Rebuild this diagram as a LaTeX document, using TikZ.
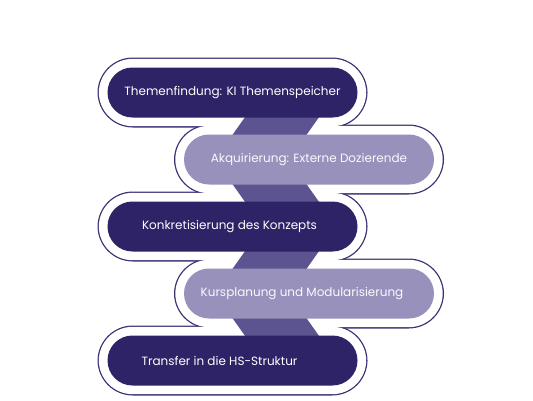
\documentclass[tikz,border=0pt]{standalone}
\usepackage{fontspec}
\setmainfont{Poppins}
\usetikzlibrary{backgrounds}
\definecolor{stepdark}{HTML}{2D2366}
\definecolor{steplight}{HTML}{9791BC}
\definecolor{ribbonpurple}{HTML}{5C5491}
\definecolor{ringpurple}{HTML}{3B3275}
\tikzset{%
    every node/.style={%
        font=\fontsize{12}{14}\selectfont,%
        text=white%
    },%
    pill/.style={%
        rounded corners=25pt,%
        minimum width=250pt,%
        minimum height=50pt,%
        inner sep=0pt%
    },%
    pilldark/.style={pill, fill=stepdark},%
    pilllight/.style={pill, fill=steplight, text=white!95!steplight},%
    ringline/.style={%
        draw=ringpurple,%
        line width=2.6pt,%
        rounded corners=34pt%
    },%
    ringfill/.style={%
        fill=white,%
        rounded corners=34pt%
    },%
    ribbon/.style={fill=ribbonpurple}%
}

\begin{document}
\begin{tikzpicture}[x=1pt,y=-1pt]
    \useasboundingbox (0,0) rectangle (533,400);
    \node[pilldark] (find) at (232.5,92.5) {Themenfindung: KI Themenspeicher};
    \node[pilllight] (acquire) at (309,159.5) {Akquirierung: Externe Dozierende};
    \node[pilldark] (concept) at (232.5,226.5) {Konkretisierung des Konzepts\hspace*{6pt}};
    \node[pilllight] (plan) at (309,293.5) {Kursplanung und Modularisierung\hspace*{14pt}};
    \node[pilldark] (transfer) at (232.5,360.5) {Transfer in die HS-Struktur\hspace*{26pt}};
    \begin{scope}[on background layer]
        % outer rings, merged
        \foreach \p in {find,acquire,concept,plan,transfer}
            \draw[ringline] ([xshift=-8.5pt,yshift=8.5pt]\p.north west)
                rectangle ([xshift=8.5pt,yshift=-8.5pt]\p.south east);
        \foreach \p in {find,acquire,concept,plan,transfer}
            \fill[ringfill] ([xshift=-8.5pt,yshift=8.5pt]\p.north west)
                rectangle ([xshift=8.5pt,yshift=-8.5pt]\p.south east);
        % zigzag band
        \fill[ribbon] ([xshift=30pt]find.center)
            -- ([xshift=-94pt]acquire.center)
            -- ([xshift=30pt]concept.center)
            -- ([xshift=-94pt]plan.center)
            -- ([xshift=30pt]transfer.center)
            -- ([xshift=104pt]transfer.center)
            -- ([xshift=-20pt]plan.center)
            -- ([xshift=104pt]concept.center)
            -- ([xshift=-20pt]acquire.center)
            -- ([xshift=104pt]find.center)
            -- cycle;
    \end{scope}
\end{tikzpicture}
\end{document}
